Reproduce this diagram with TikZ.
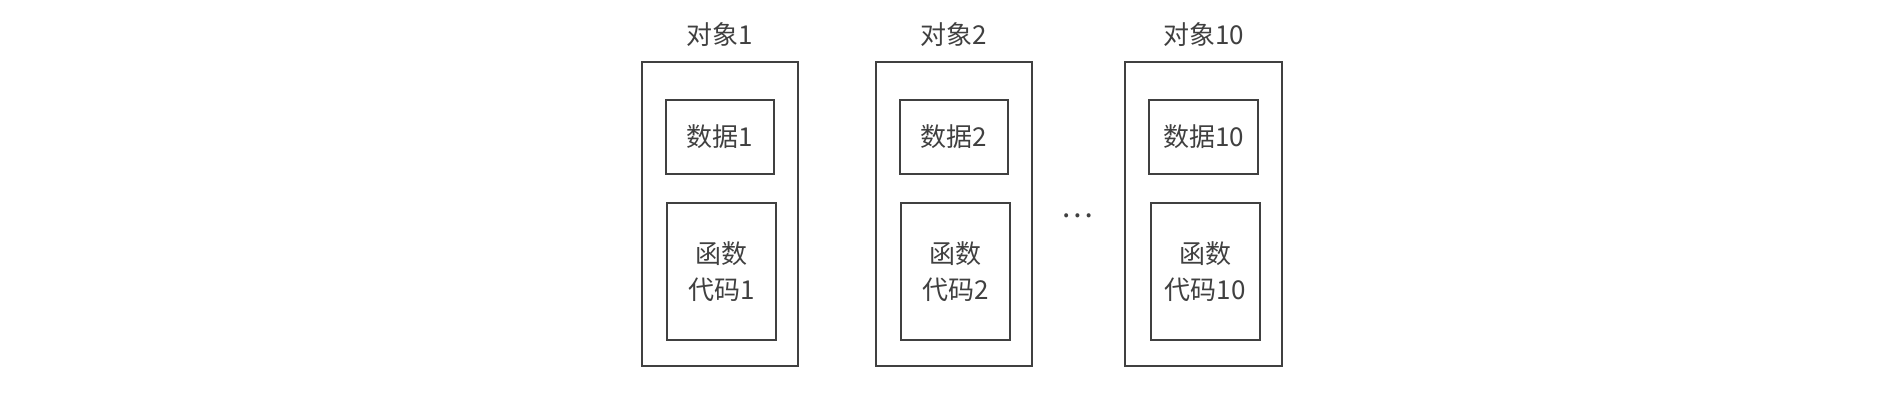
\documentclass[tikz,border=0pt]{standalone}
\usepackage{fontspec}
\setmainfont{Noto Sans CJK SC}
\usetikzlibrary{positioning}
\definecolor{boxgray}{HTML}{404040}
\tikzset{
	objbox/.style={draw=boxgray, line width=1pt, inner sep=0pt, minimum width=78.3pt, minimum height=152pt},
	databox/.style={draw=boxgray, line width=1pt, inner sep=0pt, minimum width=54.3pt, minimum height=37pt, font=\fontsize{13}{16}\selectfont, text=boxgray},
	codebox/.style={draw=boxgray, line width=1pt, inner sep=0pt, minimum width=54.6pt, minimum height=68.3pt, align=center, font=\fontsize{13}{18}\selectfont, text=boxgray},
	objlabel/.style={font=\fontsize{13}{16}\selectfont, text=boxgray}
}

\begin{document}
\begin{tikzpicture}[x=0.5pt, y=-0.5pt]
	\useasboundingbox (0,0) rectangle (1890,418);
	\foreach \x/\n in {720/1, 954/2, 1203.7/10} {
		\node[objbox] (obj\n) at (\x,213.7) {};
		\node[objlabel] (title\n) at (\x,35) {对象\n};
		\node[databox] (data\n) at (\x,136.7) {数据\n};
		\node[codebox] (code\n) at (\x+1.7,271.3) {函数\\代码\n};
	}
	\node[text=boxgray, font=\fontsize{15}{16}\selectfont] (dots) at (1077,216) {…};
\end{tikzpicture}
\end{document}
